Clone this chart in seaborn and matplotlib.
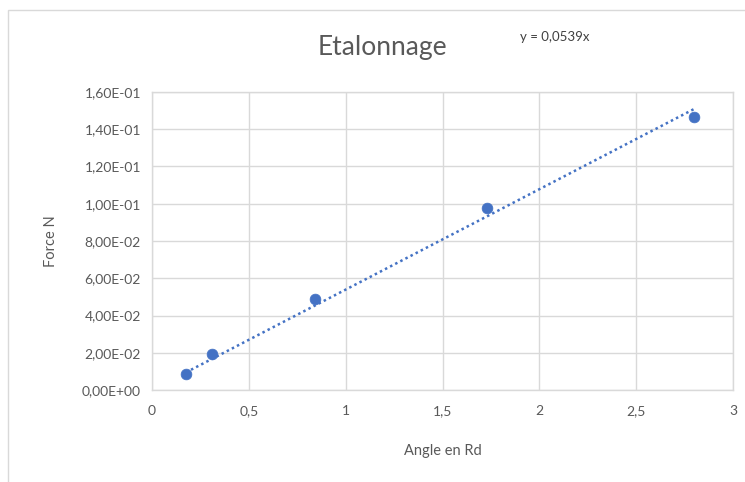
import matplotlib
matplotlib.use("Agg")
import matplotlib.pyplot as plt
import seaborn as sns
import pandas as pd
import numpy as np
from matplotlib.ticker import FuncFormatter, MultipleLocator
from matplotlib.patches import Rectangle

angle = [0.175, 0.31, 0.84, 1.73, 2.80]
force = [0.0087, 0.0192, 0.0489, 0.0977, 0.1466]
slope = 0.0539
title = "Etalonnage"
equation = "y = 0,0539x"
x_label = "Angle en Rd"
y_label = "Force N"

sns.set_theme(style="white")
plt.rcParams['font.family'] = ['Lato', 'DejaVu Sans']

blue = "#4472C4"
gray_text = "#595959"
grid_c = "#D9D9D9"

fig = plt.figure(figsize=(7.45, 4.82), dpi=100)
ax = fig.add_axes([152/745, 1-390/482, (733-152)/745, (390-92)/482])

# chart frame
fig.patches.append(Rectangle((8/745, -0.1), 1.2, 1.1 - 10/482,
                             transform=fig.transFigure, fill=False,
                             edgecolor=grid_c, linewidth=1.0))

df = pd.DataFrame({"angle": angle, "force": force})
sns.scatterplot(data=df, x="angle", y="force", ax=ax, color=blue, s=60,
                edgecolor=blue, linewidth=0.5, zorder=3)

xs = np.array([min(angle), max(angle)])
ax.plot(xs, slope * xs, linestyle=(0, (1, 1.3)), color=blue, linewidth=1.8, zorder=2)

ax.set_xlim(0, 3)
ax.set_ylim(0, 0.16)
ax.xaxis.set_major_locator(MultipleLocator(0.5))
ax.yaxis.set_major_locator(MultipleLocator(0.02))
ax.xaxis.set_major_formatter(FuncFormatter(lambda v, p: (f"{v:g}").replace('.', ',')))
ax.yaxis.set_major_formatter(FuncFormatter(lambda v, p: (f"{v:.2E}").replace('.', ',')))
ax.grid(True, color=grid_c, linewidth=1.0)
ax.set_axisbelow(True)
for s in ax.spines.values():
    s.set_color(grid_c)
    s.set_linewidth(1.0)
ax.tick_params(axis='both', length=0, labelsize=10, labelcolor=gray_text)
ax.tick_params(axis='x', pad=11)
ax.tick_params(axis='y', pad=8)

ax.set_xlabel(x_label, fontsize=10.5, color=gray_text, labelpad=19)
ax.set_ylabel(y_label, fontsize=10.5, color=gray_text, labelpad=17)

fig.text(382/745, 1-48/482, title, ha='center', va='center', fontsize=19, color=gray_text)
fig.text(555/745, 1-37/482, equation, ha='center', va='center', fontsize=9.5, color="#404040")

fig.savefig("out.png", dpi=100)
